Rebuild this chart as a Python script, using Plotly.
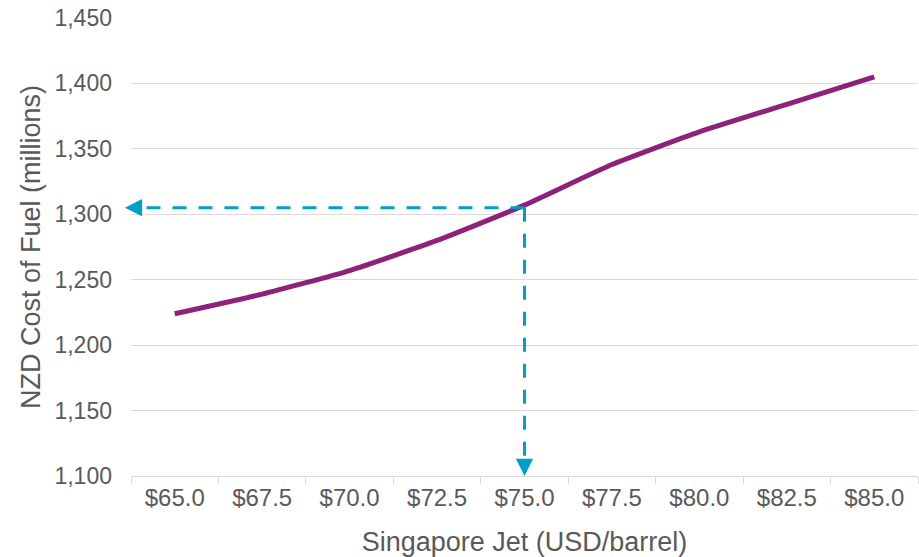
import plotly.graph_objects as go

# Singapore Jet price scenarios (USD/barrel) and resulting NZD fuel cost (millions)
jet_price = ["$65.0", "$67.5", "$70.0", "$72.5", "$75.0", "$77.5", "$80.0", "$82.5", "$85.0"]
fuel_cost = [1224, 1239, 1257, 1280, 1307, 1338, 1363, 1384, 1405]

# Reference scenario highlighted with dashed guide lines
ref_index = 4          # position of $75.0 on the category axis
ref_cost = 1305

y_ticks = [1100, 1150, 1200, 1250, 1300, 1350, 1400, 1450]

PURPLE = "#8C2279"
TEAL = "#00A0C6"
GRID = "#D9D9D9"
TEXT = "#595959"
FONT = "Liberation Sans, Arial, sans-serif"

n_cat = len(jet_price)

fig = go.Figure()

fig.add_trace(go.Scatter(
    x=jet_price,
    y=fuel_cost,
    mode="lines",
    line=dict(color=PURPLE, width=5, shape="spline", smoothing=0.5),
    hoverinfo="x+y",
    showlegend=False,
))

# dashed guides from the reference point to both axes
fig.add_shape(type="line", xref="x", yref="y",
              x0=ref_index, y0=ref_cost, x1=-0.45, y1=ref_cost,
              line=dict(color=TEAL, width=3, dash="14px,12px"), layer="above")
fig.add_shape(type="line", xref="x", yref="y",
              x0=ref_index, y0=ref_cost, x1=ref_index, y1=1112,
              line=dict(color=TEAL, width=3, dash="14px,12px"), layer="above")

# arrowheads at the axis ends (left one sits just past the plot edge)
fig.add_annotation(x=-0.07 / n_cat, y=ref_cost, xref="paper", yref="y",
                   ax=14, ay=0, axref="pixel", ayref="pixel",
                   showarrow=True, arrowhead=2, arrowsize=1.15, arrowwidth=3,
                   arrowcolor=TEAL, text="")
fig.add_annotation(x=ref_index, y=1100, xref="x", yref="y",
                   ax=0, ay=-14, axref="pixel", ayref="pixel",
                   showarrow=True, arrowhead=2, arrowsize=1.15, arrowwidth=3,
                   arrowcolor=TEAL, text="")

fig.update_layout(
    width=919,
    height=557,
    margin=dict(l=131, r=1, t=18, b=81),
    paper_bgcolor="white",
    plot_bgcolor="white",
    font=dict(family=FONT, color=TEXT, size=23),
    xaxis=dict(
        type="category",
        automargin=False,
        range=[-0.5, n_cat - 0.5],
        tickson="boundaries",
        ticks="outside",
        ticklen=7,
        tickcolor=GRID,
        tickwidth=1,
        showline=True,
        linecolor=GRID,
        linewidth=1,
        showgrid=False,
        tickfont=dict(size=24, color=TEXT),
        title=dict(text="Singapore Jet (USD/barrel)", font=dict(size=27, color=TEXT), standoff=22),
    ),
    yaxis=dict(
        automargin=False,
        range=[1100, 1450],
        tickvals=y_ticks,
        tickformat=",",
        showgrid=True,
        gridcolor=GRID,
        gridwidth=1,
        zeroline=False,
        showline=False,
        ticks="",
        ticklabelstandoff=18,
        tickfont=dict(size=23, color=TEXT),
        title=dict(text="NZD Cost of Fuel (millions)", font=dict(size=27, color=TEXT), standoff=5),
    ),
)

fig.write_html("out.html")
